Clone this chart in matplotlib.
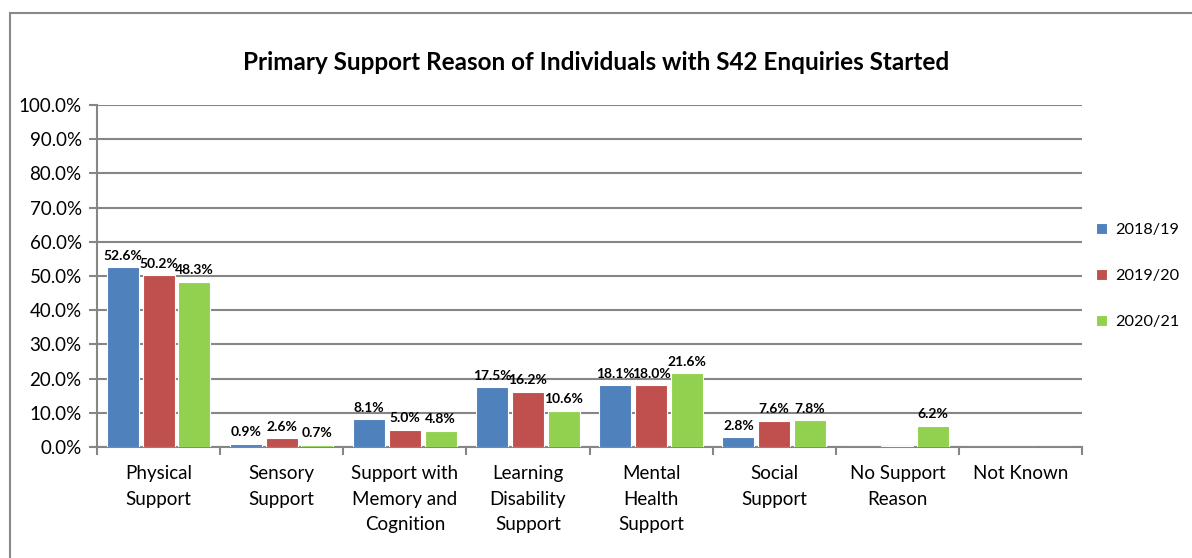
import numpy as np
import matplotlib.pyplot as plt
from matplotlib.patches import Rectangle

plt.rcParams['font.family'] = ['Lato', 'DejaVu Sans']

# data
categories = ["Physical\nSupport", "Sensory\nSupport", "Support with\nMemory and\nCognition",
              "Learning\nDisability\nSupport", "Mental\nHealth\nSupport", "Social\nSupport",
              "No Support\nReason", "Not Known"]
years = ["2018/19", "2019/20", "2020/21"]
v2018 = [52.6, 0.9, 8.1, 17.5, 18.1, 2.8, 0.0, 0.0]
v2019 = [50.2, 2.6, 5.0, 16.2, 18.0, 7.6, 0.2, 0.0]
v2020 = [48.3, 0.7, 4.8, 10.6, 21.6, 7.8, 6.2, 0.0]
l2018 = ["52.6%", "0.9%", "8.1%", "17.5%", "18.1%", "2.8%", "", ""]
l2019 = ["50.2%", "2.6%", "5.0%", "16.2%", "18.0%", "7.6%", "", ""]
l2020 = ["48.3%", "0.7%", "4.8%", "10.6%", "21.6%", "7.8%", "6.2%", ""]
colors = ["#4F81BD", "#C0504D", "#92D050"]

fig = plt.figure(figsize=(11.92, 5.58), dpi=100)

# outer chart border
fig.patches.append(Rectangle((10/1192, -0.05), 1.2, 1 - 12.5/558 + 0.05, transform=fig.transFigure,
                             fill=False, edgecolor="#898989", linewidth=1.5))

ax = fig.add_axes([97/1192, 1 - 447/558, 985/1192, 342/558])

x = np.arange(len(categories))
w = 0.26
step = 0.29
series = [v2018, v2019, v2020]
labels = [l2018, l2019, l2020]
for i in range(3):
    bars = ax.bar(x + (i - 1) * step, series[i], width=w, color=colors[i],
                  edgecolor="white", linewidth=0.8, label=years[i], zorder=3)
    for b, lab in zip(bars, labels[i]):
        if lab:
            ax.annotate(lab, (b.get_x() + b.get_width() / 2, b.get_height()),
                        xytext=(0, 4), textcoords="offset points", ha="center", va="bottom",
                        fontsize=10, fontweight="bold", zorder=4)

ax.set_xlim(-0.5, len(categories) - 0.5)
ax.set_ylim(0, 100)
ax.set_yticks(np.arange(0, 101, 10))
ax.set_yticklabels([f"{t:.1f}%" for t in np.arange(0, 101, 10)], fontsize=13.5)
ax.yaxis.grid(True, color="#868686", linewidth=1.5, zorder=0)

ax.set_xticks(x)
ax.set_xticklabels(categories, fontsize=13.5, linespacing=1.62)
ax.tick_params(axis="x", length=0, pad=13)
ax.set_xticks(np.arange(-0.5, len(categories)), minor=True)
ax.tick_params(axis="x", which="minor", length=6, color="#868686", width=1.5)
ax.tick_params(axis="y", length=6, color="#868686", width=1.5, pad=5)

for s in ["top", "right"]:
    ax.spines[s].set_visible(False)
ax.spines["left"].set_color("#868686")
ax.spines["left"].set_linewidth(1.5)
ax.spines["bottom"].set_color("#868686")
ax.spines["bottom"].set_linewidth(1.5)

fig.text(0.5, 1 - 62/558, "Primary Support Reason of Individuals with S42 Enquiries Started",
         ha="center", va="center", fontsize=17.5, fontweight="bold")

fig.legend(loc="upper left", bbox_to_anchor=(1081/1192, 1 - 208/558), frameon=False,
           fontsize=11.7, handlelength=0.7, handleheight=0.7, handletextpad=0.5, labelspacing=1.95)

fig.savefig("out.png", dpi=100)
